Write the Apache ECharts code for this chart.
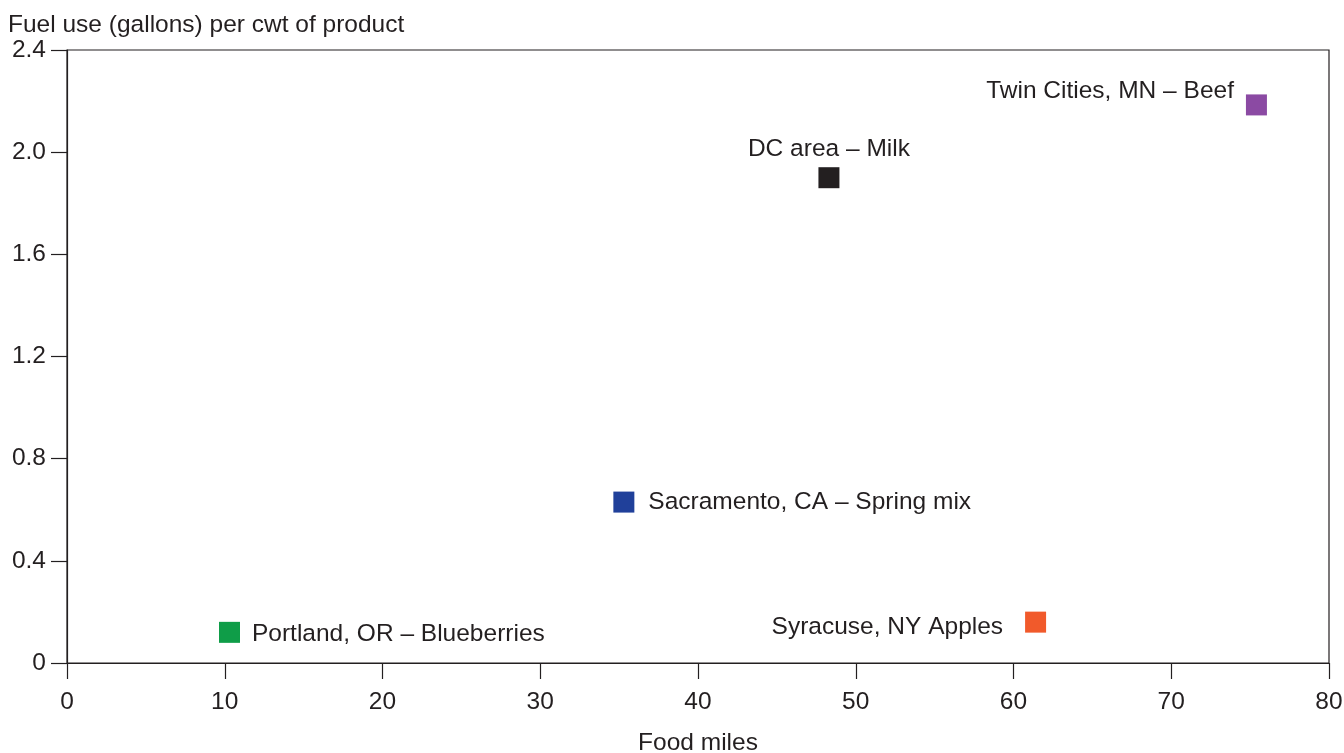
<!DOCTYPE html>
<html>
<head>
<meta charset="utf-8">
<script src="https://cdn.jsdelivr.net/npm/echarts@6/dist/echarts.min.js"></script>
<style>html,body{margin:0;padding:0;background:#fff;}#c{width:1344px;height:753px;}</style>
</head>
<body>
<div id="c"></div>
<script>
const names = ["Portland, OR \u2013 Blueberries", "Sacramento, CA \u2013 Spring mix", "DC area \u2013 Milk", "Syracuse, NY Apples", "Twin Cities, MN \u2013 Beef"];
const foodMiles = [10.3, 35.3, 48.3, 61.4, 75.4];
const fuelUse = [0.12, 0.63, 1.90, 0.16, 2.185];
const colors = ["#0f9d48", "#20409a", "#231f20", "#f15a2b", "#8b4aa3"];
const labelPos = ["right", "right", "top", "left", "left"];
const labelOffset = [[0, 2], [2, 0], [0, 7], [-10, 5], [0, -14]];
const xTicks = [0, 10, 20, 30, 40, 50, 60, 70, 80];
const yTicks = [0, 0.4, 0.8, 1.2, 1.6, 2.0, 2.4];

const font = "'Liberation Sans', Arial, sans-serif";
const textColor = "#231f20";
const axisColor = "#231f20";
const fs = 24.5;

const data = names.map((n, i) => ({
  name: n,
  value: [foodMiles[i], fuelUse[i]],
  itemStyle: { color: colors[i], opacity: 1 },
  label: { show: true, position: labelPos[i], offset: labelOffset[i], formatter: n, distance: 12,
    fontFamily: font, fontSize: fs, color: textColor, opacity: 1 }
}));

const chart = echarts.init(document.getElementById('c'));
chart.setOption({
  animation: false,
  title: {
    text: "Fuel use (gallons) per cwt of product",
    left: 3, top: 8,
    textStyle: { fontFamily: font, fontSize: fs, fontWeight: 'normal', color: textColor }
  },
  grid: { left: 67, right: 15, top: 50, bottom: 90, show: true, borderColor: axisColor, borderWidth: 1.2,
    containLabel: false, outerBoundsMode: 'none' },
  xAxis: {
    type: 'value', min: 0, max: 80, interval: 10,
    name: "Food miles", nameLocation: 'middle', nameGap: 68,
    nameTextStyle: { fontFamily: font, fontSize: fs, color: textColor },
    axisLine: { show: true, lineStyle: { color: axisColor, width: 1.2 } },
    axisTick: { show: true, inside: false, length: 16, lineStyle: { color: axisColor, width: 1.2 } },
    axisLabel: { fontFamily: font, fontSize: fs, color: textColor, margin: 27,
      formatter: v => xTicks.includes(v) ? String(v) : '' },
    splitLine: { show: false }
  },
  yAxis: {
    type: 'value', min: 0, max: 2.4, interval: 0.4,
    axisLine: { show: true, lineStyle: { color: axisColor, width: 1.2 } },
    axisTick: { show: true, inside: false, length: 16, lineStyle: { color: axisColor, width: 1.2 } },
    axisLabel: { fontFamily: font, fontSize: fs, color: textColor, margin: 21,
      formatter: v => { const t = yTicks.find(y => Math.abs(y - v) < 1e-9); return t === undefined ? '' : (t === 0 ? '0' : t.toFixed(1)); } },
    splitLine: { show: false }
  },
  series: [{
    type: 'scatter',
    symbol: 'rect',
    symbolSize: 21,
    data: data,
    emphasis: { disabled: true }
  }]
});
</script>
</body>
</html>
